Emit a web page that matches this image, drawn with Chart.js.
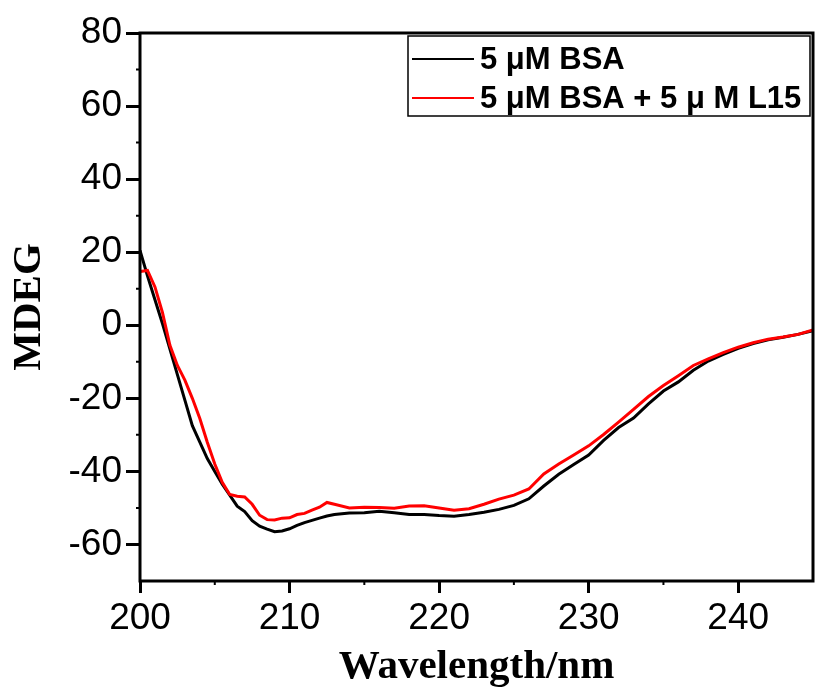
<!DOCTYPE html>
<html>
<head>
<meta charset="utf-8">
<script src="https://cdn.jsdelivr.net/npm/chart.js@4/dist/chart.umd.min.js"></script>
<style>
html,body{margin:0;padding:0;background:#fff;}
#wrap{width:815px;height:693px;position:relative;}
</style>
</head>
<body>
<div id="wrap"><canvas id="c" width="815" height="693"></canvas></div>
<script>
const wavelengths = [200,200.5,201,201.5,202,202.5,203,203.5,204,204.5,205,205.5,206,206.5,207,207.5,208,208.5,209,209.5,210,210.5,211,211.5,212,212.5,213,214,215,216,217,218,219,220,221,222,223,224,225,226,227,228,229,230,231,232,233,234,235,236,237,238,239,240,241,242,243,244,245];
const bsa = [20.5,13.5,7,0.5,-6.5,-13.5,-20.5,-27.5,-32,-36.5,-40,-43.5,-46.5,-49.5,-51,-53.5,-55,-55.8,-56.5,-56.3,-55.7,-54.8,-54,-53.4,-52.8,-52.2,-51.8,-51.4,-51.3,-50.9,-51.3,-51.8,-51.8,-52.1,-52.3,-51.8,-51.2,-50.4,-49.3,-47.5,-44,-40.8,-38.1,-35.5,-31.5,-28,-25.4,-21.5,-18,-15.5,-12.3,-9.8,-8,-6.3,-5,-4,-3.3,-2.5,-1.5];
const bsaL15 = [14.7,15,10.5,3.5,-5.5,-11,-15,-20,-25.5,-32,-38,-43,-46.3,-46.8,-47,-49,-52,-53.2,-53.3,-52.8,-52.7,-51.8,-51.5,-50.6,-49.8,-48.5,-49,-50,-49.8,-49.9,-50.1,-49.5,-49.4,-50,-50.6,-50.2,-49,-47.6,-46.5,-44.8,-40.7,-38,-35.5,-33,-29.9,-26.5,-23,-19.5,-16.5,-13.8,-11,-9.2,-7.5,-6,-4.8,-3.8,-3.2,-2.5,-1.3];
const seriesLabels = ['5 \u03bcM BSA', '5 \u03bcM BSA + 5 \u03bc M L15'];
const seriesColors = ['#000000', '#ff0000'];
const xTitle = 'Wavelength/nm';
const yTitle = 'MDEG';
const xMinorTicks = [205,215,225,235];
const yMinorTicks = [70,50,30,10,-10,-30,-50];

const tickFont = {family: "'Liberation Sans',Arial,sans-serif", size: 37};
const titleFont = {family: "'Liberation Serif','Times New Roman',serif", size: 41, weight: 'bold', lineHeight: 1};

const toPts = (vals) => wavelengths.map((w, i) => ({x: w, y: vals[i]}));

const framePlugin = {
  id: 'frame',
  afterDraw(chart) {
    const {ctx, chartArea: a, scales} = chart;
    ctx.save();
    ctx.strokeStyle = '#000';
    ctx.lineWidth = 3;
    ctx.strokeRect(a.left, a.top, a.right - a.left, a.bottom - a.top);
    ctx.lineWidth = 2;
    ctx.beginPath();
    xMinorTicks.forEach(v => {
      const px = scales.x.getPixelForValue(v);
      ctx.moveTo(px, a.bottom); ctx.lineTo(px, a.bottom + 4);
    });
    yMinorTicks.forEach(v => {
      const py = scales.y.getPixelForValue(v);
      ctx.moveTo(a.left, py); ctx.lineTo(a.left - 4, py);
    });
    ctx.stroke();
    // legend box
    ctx.font = "bold 31px 'Liberation Sans', Arial, sans-serif";
    ctx.textBaseline = 'alphabetic';
    ctx.textAlign = 'left';
    const boxL = 408, boxT = 36, lineLen = 62, gap = 6;
    let maxW = 0;
    seriesLabels.forEach(l => { maxW = Math.max(maxW, ctx.measureText(l).width); });
    const boxW = Math.max(4 + lineLen + gap + maxW + 8, a.right - 3 - boxL);
    const boxH = 80;
    ctx.fillStyle = '#fff';
    ctx.fillRect(boxL, boxT, boxW, boxH);
    ctx.lineWidth = 1.5;
    ctx.strokeStyle = '#000';
    ctx.strokeRect(boxL, boxT, boxW, boxH);
    const rowsY = [59, 98];
    chart.data.datasets.forEach((ds, i) => {
      const y = rowsY[i];
      ctx.strokeStyle = ds.borderColor;
      ctx.lineWidth = 2;
      ctx.beginPath();
      ctx.moveTo(boxL + 4, y); ctx.lineTo(boxL + 4 + lineLen, y);
      ctx.stroke();
      ctx.fillStyle = '#000';
      ctx.fillText(ds.label, boxL + 4 + lineLen + gap, y + 10);
    });
    ctx.restore();
  }
};

new Chart(document.getElementById('c'), {
  type: 'line',
  data: {
    datasets: [
      {label: seriesLabels[0], data: toPts(bsa), borderColor: seriesColors[0], borderWidth: 3, pointRadius: 0, tension: 0, fill: false, order: 2},
      {label: seriesLabels[1], data: toPts(bsaL15), borderColor: seriesColors[1], borderWidth: 3, pointRadius: 0, tension: 0, fill: false, order: 1}
    ]
  },
  options: {
    responsive: false,
    animation: false,
    devicePixelRatio: 1,
    layout: {padding: {top: 33, right: 2, left: 0, bottom: 0}},
    plugins: {legend: {display: false}, tooltip: {enabled: false}},
    scales: {
      x: {
        type: 'linear', min: 200, max: 245,
        afterFit(s) { s.height = 112; },
        ticks: {stepSize: 10, includeBounds: false, color: '#000', font: tickFont, padding: 4, maxRotation: 0, autoSkip: false},
        grid: {drawOnChartArea: false, drawTicks: true, tickLength: 12, color: '#000', lineWidth: 3},
        border: {display: false},
        title: {display: true, text: xTitle, color: '#000', font: titleFont, padding: {top: 0, bottom: 5}}
      },
      y: {
        type: 'linear', min: -70, max: 80,
        afterFit(s) { s.width = 140; },
        ticks: {stepSize: 20, includeBounds: false, color: '#000', font: tickFont, padding: 4, autoSkip: false},
        grid: {drawOnChartArea: false, drawTicks: true, tickLength: 14, color: '#000', lineWidth: 3},
        border: {display: false},
        title: {display: true, text: yTitle, color: '#000', font: titleFont, padding: {top: 9, bottom: 0}}
      }
    }
  },
  plugins: [framePlugin]
});
</script>
</body>
</html>
